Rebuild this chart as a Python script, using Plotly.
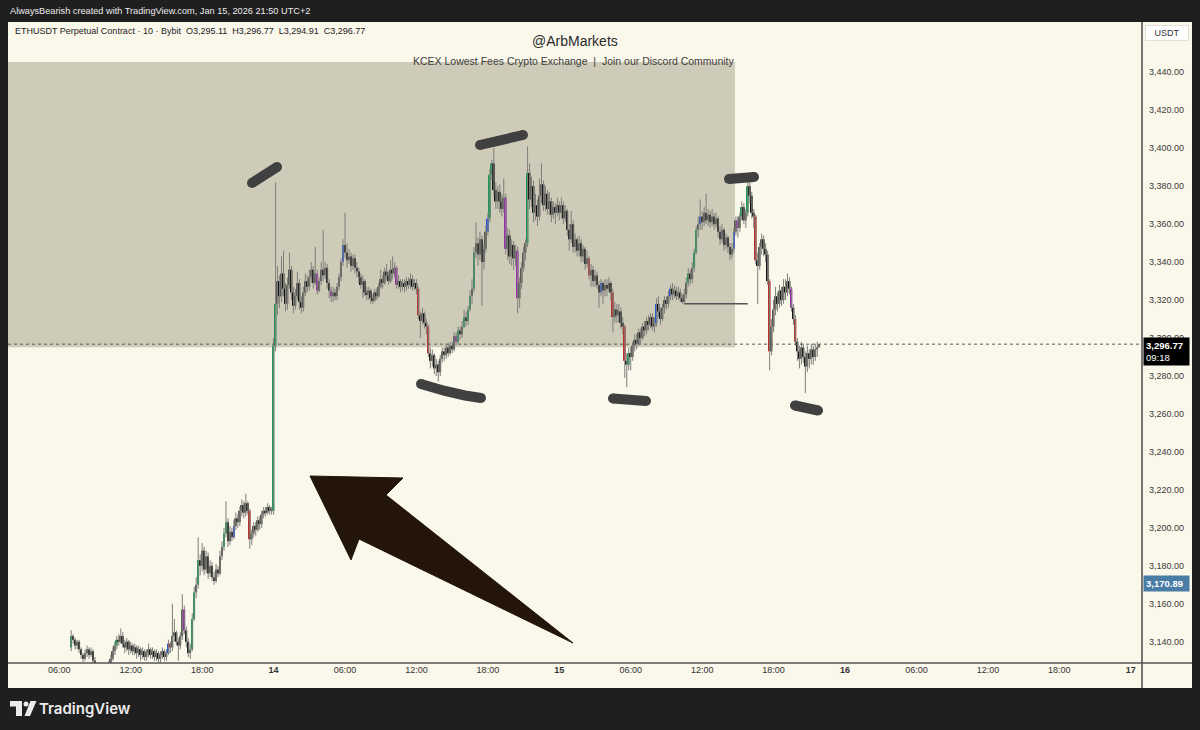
import pandas as pd
import plotly.graph_objects as go

# ---------------- data (10-minute candles, Bybit ETHUSDT perpetual) ----------------
symbol_title = "ETHUSDT Perpetual Contract · 10 · Bybit"
start_time = "2026-01-13 07:00"
first_open = 3137.0

close = [
    # Jan 13 07h .. 23h
    3143, 3141, 3138, 3140, 3136, 3133,
    3131, 3134, 3136, 3133, 3135, 3130,
    3128, 3125, 3123, 3126, 3124, 3122,
    3125, 3128, 3131, 3135, 3138, 3141,
    3140, 3143, 3139, 3137, 3140, 3136,
    3138, 3135, 3137, 3134, 3136, 3133,
    3135, 3132, 3134, 3136, 3133, 3135,
    3132, 3134, 3131, 3133, 3135, 3132,
    3134, 3139, 3137, 3143, 3145, 3140,
    3138, 3143, 3157, 3146, 3140, 3134,
    3136, 3152, 3166, 3170, 3183, 3180,
    3188, 3178, 3185, 3176, 3180, 3174,
    3172, 3178, 3176, 3185, 3190, 3197,
    3203, 3193, 3198, 3195, 3201, 3205,
    3203, 3209, 3212, 3208, 3213, 3209,
    3194, 3197, 3201, 3199, 3204, 3202,
    3207, 3209, 3208, 3211, 3209, 3209,
    # Jan 14 00h .. 23h
    3296, 3318, 3330, 3322, 3334, 3326,
    3318, 3328, 3336, 3324, 3317, 3322,
    3329, 3319, 3316, 3324, 3330, 3327,
    3332, 3336, 3329, 3334, 3325, 3330,
    3336, 3333, 3337, 3329, 3325, 3322,
    3324, 3322, 3327, 3332, 3340, 3349,
    3345, 3341, 3343, 3338, 3342, 3337,
    3335, 3332, 3328, 3330, 3324, 3323,
    3325, 3321, 3320, 3324, 3322, 3327,
    3331, 3329, 3335, 3333, 3330, 3336,
    3334, 3337, 3328, 3330, 3327, 3329,
    3327, 3330, 3328, 3331, 3327, 3329,
    3326, 3312, 3309, 3313, 3308, 3306,
    3292, 3288, 3291, 3284, 3286, 3282,
    3289, 3293, 3291, 3295, 3292, 3296,
    3294, 3301, 3298, 3304, 3302, 3306,
    3311, 3309, 3315, 3322, 3326, 3345,
    3350, 3344, 3352, 3340, 3347, 3356,
    3363, 3386, 3392, 3378, 3372, 3377,
    3372, 3368, 3374, 3347, 3354, 3343,
    3349, 3342, 3346, 3321, 3329, 3337,
    3345, 3350, 3387, 3373, 3380, 3366,
    3370, 3364, 3375, 3381, 3370, 3376,
    3368, 3372, 3365, 3369, 3366, 3370,
    # Jan 15 00h .. 21h
    3366, 3370, 3363, 3367, 3357, 3352,
    3360, 3348, 3352, 3346, 3350, 3343,
    3347, 3339, 3342, 3333, 3336, 3330,
    3333, 3328, 3324, 3329, 3325, 3328,
    3326, 3329, 3324, 3311, 3315, 3312,
    3314, 3308, 3306, 3288, 3286, 3292,
    3290, 3296, 3299, 3297, 3303, 3300,
    3306, 3304, 3309, 3307, 3311, 3306,
    3308, 3318, 3314, 3310, 3316, 3320,
    3318, 3322, 3326, 3323, 3325, 3322,
    3324, 3321, 3319, 3323, 3329, 3334,
    3331, 3337, 3345, 3357, 3360, 3364,
    3361, 3366, 3362, 3365, 3361, 3364,
    3360, 3363, 3356, 3352, 3357, 3349,
    3353, 3348, 3344, 3347, 3356, 3362,
    3358, 3364, 3369, 3362, 3366, 3380,
    3375, 3366, 3364, 3341, 3338, 3348,
    3352, 3347, 3344, 3330, 3293, 3306,
    3315, 3322, 3318, 3325, 3320, 3327,
    3324, 3330, 3326, 3316, 3310, 3298,
    3293, 3289, 3295, 3290, 3285, 3292,
    3289, 3294, 3290, 3294, 3295.11, 3296.77,
]

high = [
    3146, 3144, 3142, 3141, 3141, 3137,
    3134, 3136, 3138, 3137, 3137, 3136,
    3132, 3129, 3127, 3128, 3127, 3125,
    3127, 3130, 3133, 3137, 3140, 3143,
    3144, 3147, 3145, 3141, 3142, 3141,
    3140, 3139, 3139, 3138, 3138, 3137,
    3137, 3136, 3136, 3139, 3137, 3137,
    3136, 3136, 3135, 3135, 3137, 3136,
    3136, 3141, 3140, 3160, 3152, 3146,
    3142, 3145, 3165, 3159, 3148, 3142,
    3139, 3155, 3169, 3174, 3195, 3186,
    3192, 3190, 3188, 3187, 3183, 3182,
    3177, 3181, 3180, 3188, 3193, 3200,
    3214, 3205, 3201, 3200, 3204, 3208,
    3207, 3211, 3215, 3214, 3218, 3214,
    3210, 3199, 3203, 3203, 3206, 3206,
    3209, 3211, 3211, 3213, 3212, 3211,
    3300, 3382, 3338, 3333, 3343, 3346,
    3329, 3332, 3345, 3338, 3327, 3326,
    3335, 3331, 3322, 3327, 3334, 3333,
    3336, 3340, 3338, 3348, 3336, 3332,
    3340, 3357, 3340, 3339, 3331, 3327,
    3327, 3326, 3329, 3334, 3342, 3352,
    3366, 3350, 3347, 3345, 3344, 3344,
    3340, 3337, 3334, 3333, 3331, 3327,
    3327, 3326, 3323, 3326, 3326, 3329,
    3336, 3333, 3337, 3339, 3335, 3341,
    3343, 3340, 3338, 3333, 3331, 3331,
    3331, 3332, 3332, 3334, 3333, 3331,
    3331, 3327, 3314, 3316, 3314, 3310,
    3307, 3295, 3294, 3292, 3289, 3288,
    3291, 3295, 3295, 3297, 3297, 3298,
    3298, 3303, 3303, 3306, 3306, 3309,
    3315, 3314, 3317, 3325, 3331, 3348,
    3361, 3353, 3356, 3354, 3350, 3359,
    3366, 3389, 3394, 3400, 3382, 3380,
    3381, 3376, 3384, 3376, 3358, 3357,
    3352, 3351, 3349, 3348, 3332, 3340,
    3348, 3352, 3401, 3392, 3385, 3383,
    3376, 3373, 3384, 3392, 3383, 3380,
    3378, 3377, 3374, 3372, 3371, 3374,
    3372, 3374, 3372, 3370, 3368, 3360,
    3367, 3362, 3355, 3353, 3354, 3352,
    3349, 3348, 3346, 3343, 3339, 3338,
    3336, 3335, 3330, 3331, 3330, 3331,
    3331, 3332, 3330, 3326, 3319, 3318,
    3318, 3316, 3311, 3307, 3292, 3295,
    3295, 3298, 3302, 3302, 3305, 3305,
    3308, 3309, 3311, 3312, 3313, 3313,
    3311, 3321, 3322, 3316, 3318, 3322,
    3322, 3325, 3328, 3329, 3328, 3327,
    3327, 3326, 3323, 3326, 3332, 3337,
    3336, 3340, 3347, 3359, 3364, 3373,
    3367, 3369, 3376, 3368, 3367, 3368,
    3366, 3366, 3364, 3359, 3360, 3358,
    3355, 3354, 3350, 3350, 3358, 3364,
    3364, 3366, 3372, 3371, 3368, 3382,
    3382, 3377, 3368, 3365, 3345, 3350,
    3355, 3354, 3350, 3346, 3331, 3310,
    3320, 3327, 3324, 3328, 3327, 3331,
    3331, 3334, 3332, 3327, 3318, 3312,
    3300, 3296, 3298, 3297, 3293, 3296,
    3294, 3297, 3296, 3297, 3298, 3296.77,
]

low = [
    3135, 3139, 3136, 3136, 3134, 3131,
    3129, 3130, 3132, 3131, 3132, 3128,
    3126, 3123, 3121, 3122, 3121, 3119,
    3121, 3124, 3127, 3130, 3133, 3136,
    3138, 3139, 3137, 3134, 3135, 3133,
    3134, 3133, 3133, 3131, 3132, 3130,
    3131, 3130, 3130, 3132, 3131, 3131,
    3130, 3130, 3129, 3129, 3131, 3130,
    3130, 3133, 3134, 3135, 3140, 3138,
    3130, 3136, 3141, 3144, 3137, 3132,
    3131, 3135, 3151, 3163, 3168, 3175,
    3177, 3175, 3176, 3173, 3174, 3172,
    3170, 3171, 3174, 3175, 3183, 3188,
    3195, 3190, 3191, 3193, 3194, 3199,
    3200, 3201, 3206, 3205, 3206, 3207,
    3189, 3191, 3195, 3196, 3198, 3199,
    3200, 3205, 3206, 3207, 3207, 3207,
    3207, 3293, 3312, 3316, 3319, 3322,
    3314, 3315, 3326, 3320, 3313, 3315,
    3320, 3315, 3313, 3314, 3322, 3324,
    3325, 3329, 3326, 3328, 3323, 3324,
    3328, 3330, 3331, 3326, 3321, 3319,
    3319, 3320, 3320, 3325, 3330, 3338,
    3342, 3337, 3339, 3335, 3336, 3334,
    3332, 3329, 3326, 3321, 3322, 3320,
    3320, 3318, 3318, 3319, 3320, 3321,
    3326, 3326, 3328, 3331, 3328, 3329,
    3331, 3332, 3326, 3326, 3324, 3325,
    3324, 3325, 3326, 3326, 3325, 3325,
    3323, 3310, 3300, 3307, 3305, 3302,
    3290, 3284, 3285, 3281, 3280, 3277,
    3280, 3287, 3288, 3289, 3290, 3291,
    3292, 3293, 3296, 3297, 3299, 3300,
    3305, 3306, 3307, 3314, 3318, 3324,
    3342, 3338, 3341, 3317, 3336, 3345,
    3354, 3361, 3383, 3375, 3368, 3368,
    3366, 3364, 3366, 3344, 3341, 3339,
    3338, 3336, 3338, 3313, 3316, 3326,
    3335, 3341, 3348, 3368, 3369, 3361,
    3362, 3359, 3362, 3371, 3367, 3367,
    3365, 3365, 3361, 3363, 3360, 3364,
    3362, 3363, 3360, 3361, 3354, 3346,
    3350, 3345, 3345, 3343, 3343, 3340,
    3340, 3336, 3337, 3331, 3327, 3327,
    3327, 3326, 3316, 3322, 3318, 3322,
    3322, 3324, 3320, 3303, 3308, 3308,
    3308, 3305, 3302, 3279, 3274, 3283,
    3283, 3288, 3293, 3294, 3296, 3297,
    3299, 3301, 3302, 3304, 3305, 3304,
    3303, 3306, 3311, 3307, 3309, 3313,
    3315, 3316, 3320, 3320, 3321, 3320,
    3320, 3319, 3318, 3318, 3321, 3327,
    3328, 3329, 3335, 3344, 3353, 3357,
    3357, 3359, 3360, 3359, 3358, 3359,
    3357, 3358, 3353, 3349, 3350, 3346,
    3347, 3345, 3341, 3342, 3345, 3354,
    3353, 3356, 3362, 3360, 3358, 3364,
    3371, 3363, 3358, 3339, 3318, 3336,
    3344, 3343, 3340, 3328, 3283, 3291,
    3303, 3312, 3314, 3316, 3317, 3318,
    3320, 3322, 3323, 3314, 3307, 3296,
    3288, 3284, 3286, 3287, 3271, 3282,
    3284, 3286, 3286, 3288, 3290, 3294.91,
]

# volume-vector candle classes (candle index from start_time)
green_idx = [0, 23, 61, 62, 64, 77, 78, 102, 103, 195, 198, 200, 201, 203,
             211, 212, 230, 281, 311, 314, 315, 338, 341]
red_idx = [50, 90, 175, 180, 261, 273, 279, 345, 352, 365]
blue_idx = [49, 82, 137, 210, 267, 295, 302, 317, 334]
purple_idx = [57, 124, 131, 164, 194, 219, 225, 336, 363]

marker_price = 3170.89
countdown = "09:18"

zone_end = "2026-01-15 14:45"
zone_low = 3295.2
zone_high = 3445.4
level_price = 3318.0
level_start = "2026-01-15 10:30"
level_end = "2026-01-15 15:50"

y_ticks = [3140, 3160, 3180, 3200, 3220, 3240, 3260, 3280, 3300, 3320,
           3340, 3360, 3380, 3400, 3420, 3440]
y_tick_labels = ["3,140.00", "3,160.00", "3,180.00", "3,200.00", "3,220.00",
                 "3,240.00", "3,260.00", "3,280.00", "3,300.00", "3,320.00",
                 "3,340.00", "3,360.00", "3,380.00", "3,400.00", "3,420.00",
                 "3,440.00"]
x_tick_times = ["2026-01-13 06:00", "2026-01-13 12:00", "2026-01-13 18:00",
                "2026-01-14 00:00", "2026-01-14 06:00", "2026-01-14 12:00",
                "2026-01-14 18:00", "2026-01-15 00:00", "2026-01-15 06:00",
                "2026-01-15 12:00", "2026-01-15 18:00", "2026-01-16 00:00",
                "2026-01-16 06:00", "2026-01-16 12:00", "2026-01-16 18:00",
                "2026-01-17 00:00"]
x_tick_labels = ["06:00", "12:00", "18:00", "<b>14</b>", "06:00", "12:00",
                 "18:00", "<b>15</b>", "06:00", "12:00", "18:00", "<b>16</b>",
                 "06:00", "12:00", "18:00", "<b>17</b>"]

x_view = ["2026-01-13 01:41:27", "2026-01-17 00:56:40"]
y_view = [3128.8, 3466.5]

# ---------------- styling ----------------
FONT = "Liberation Sans"
DARK = "#1f1f1f"
CREAM = "#faf7eb"
ZONE = "#cfcbb9"
WICK = "#7e7e7a"
UP = "#5a5a55"
DOWN = "#101010"
VEC_GREEN = "#1e9a58"
VEC_RED = "#b8322c"
VEC_BLUE = "#2a58d0"
VEC_PURPLE = "#9a2cb0"
STROKE = "#404040"
ARROW = "#231608"

n = len(close)
assert len(high) == n and len(low) == n, (n, len(high), len(low))

times = pd.date_range(start_time, periods=n, freq="10min")
opens = [first_open] + close[:-1]
highs = [max(h, o, c) for h, o, c in zip(high, opens, close)]
lows = [min(l, o, c) for l, o, c in zip(low, opens, close)]

colors = []
for i, (o, c) in enumerate(zip(opens, close)):
    if i in green_idx:
        colors.append(VEC_GREEN)
    elif i in red_idx:
        colors.append(VEC_RED)
    elif i in blue_idx:
        colors.append(VEC_BLUE)
    elif i in purple_idx:
        colors.append(VEC_PURPLE)
    else:
        colors.append(UP if c >= o else DOWN)

wx, wy = [], []
for t, h, l in zip(times, highs, lows):
    wx += [t, t, None]
    wy += [l, h, None]

body_base = [min(o, c) for o, c in zip(opens, close)]
body_len = [max(abs(c - o), 0.5) for o, c in zip(opens, close)]

fig = go.Figure()
fig.add_trace(go.Scatter(x=wx, y=wy, mode="lines",
                         line=dict(color=WICK, width=1), hoverinfo="skip"))
fig.add_trace(go.Bar(x=times, y=body_len, base=body_base,
                     width=10 * 60 * 1000 * 0.92,
                     marker=dict(color=colors, line=dict(width=0)),
                     hoverinfo="skip"))

# ---------------- pixel helpers for drawings ----------------
PL, PR, PT, PB = 8, 1142, 22, 663


def px(x):
    return (x - PL) / (PR - PL)


def py(y):
    return (PB - y) / (PB - PT)


def path(points, closed=False):
    s = "M " + " L ".join(f"{px(x):.5f},{py(y):.5f}" for x, y in points)
    return s + (" Z" if closed else "")


shapes = []
shapes.append(dict(type="rect", xref="paper", yref="paper", x0=px(8), x1=px(1192),
                   y0=py(688), y1=py(22), fillcolor=CREAM, line=dict(width=0),
                   layer="below"))
shapes.append(dict(type="rect", xref="x", yref="y", x0="2026-01-12 00:00",
                   x1=zone_end, y0=zone_low, y1=zone_high, fillcolor=ZONE,
                   line=dict(width=0), layer="below"))
shapes.append(dict(type="line", xref="paper", yref="y", x0=0, x1=1,
                   y0=close[-1], y1=close[-1],
                   line=dict(color="#5a5a5a", width=1, dash="dot")))
shapes.append(dict(type="line", xref="x", yref="y", x0=level_start, x1=level_end,
                   y0=level_price, y1=level_price,
                   line=dict(color="#555555", width=1.5)))
shapes.append(dict(type="path", xref="paper", yref="paper",
                   path=path([(310, 476), (403, 478), (386, 495), (573, 643),
                              (359, 539), (351, 560)], closed=True),
                   fillcolor=ARROW, line=dict(color=ARROW, width=1)))
strokes = [
    [(252, 183), (277, 167)],
    [(480, 145), (523, 135)],
    [(421, 384), (445, 391), (465, 395.5), (481, 398)],
    [(613, 398.5), (646, 401)],
    [(729, 179), (754, 177)],
    [(795, 405.5), (818, 410.5)],
]
for pts in strokes:
    shapes.append(dict(type="path", xref="paper", yref="paper", path=path(pts),
                       line=dict(color=STROKE, width=10)))
    for (cx, cy) in (pts[0], pts[-1]):
        shapes.append(dict(type="circle", xref="paper", yref="paper",
                           x0=px(cx - 5), x1=px(cx + 5), y0=py(cy + 5), y1=py(cy - 5),
                           fillcolor=STROKE, line=dict(width=0)))
shapes.append(dict(type="line", xref="paper", yref="paper", x0=1, x1=1,
                   y0=py(688), y1=py(22), line=dict(color="#555555", width=1.6)))
shapes.append(dict(type="line", xref="paper", yref="paper", x0=0, x1=px(1192),
                   y0=0, y1=0, line=dict(color="#555555", width=1.6)))
LOGO = "#ececec"
shapes.append(dict(type="path", xref="paper", yref="paper",
                   path=path([(10, 701), (22, 701), (22, 716), (16, 716),
                              (16, 706.5), (10, 706.5)], closed=True),
                   fillcolor=LOGO, line=dict(width=0)))
shapes.append(dict(type="circle", xref="paper", yref="paper",
                   x0=px(23.5), x1=px(28.5), y0=py(706.5), y1=py(701.5),
                   fillcolor=LOGO, line=dict(width=0)))
shapes.append(dict(type="path", xref="paper", yref="paper",
                   path=path([(30.5, 701), (36.5, 701), (30, 716), (24.5, 716)],
                             closed=True),
                   fillcolor=LOGO, line=dict(width=0)))


def txt(x, y, s, size, color, anchor="left", family=FONT, weight="normal"):
    return dict(xref="paper", yref="paper", x=px(x), y=py(y), text=s,
                showarrow=False, xanchor=anchor, yanchor="middle",
                font=dict(family=family, size=size, color=color, weight=weight))


ohlc_text = (f"{symbol_title}  O{opens[-1]:,.2f}  H{highs[-1]:,.2f}  "
             f"L{lows[-1]:,.2f}  C{close[-1]:,.2f}")

annots = [
    txt(8, 11, "AlwaysBearish created with TradingView.com, Jan 15, 2026 21:50 UTC+2",
        9.2, "#ececec"),
    txt(13, 31, ohlc_text, 9, "#222222"),
    txt(575, 41, "@ArbMarkets", 14, "#2a2a2a", "center"),
    txt(574, 61, "KCEX Lowest Fees Crypto Exchange  |  Join our Discord Community",
        10.5, "#3d3d3d", "center"),
    txt(37, 708, "TradingView", 15, "#ececec", family="Inter", weight=600),
    dict(xref="paper", yref="paper", x=px(1167), y=py(33), text="USDT",
         showarrow=False, xanchor="center", yanchor="middle",
         bgcolor="#ffffff", bordercolor="#e2e0d6", borderwidth=1, borderpad=2,
         width=38, font=dict(family=FONT, size=9, color="#333333")),
    dict(xref="paper", yref="y", x=1, xanchor="left", xshift=1,
         y=close[-1], yanchor="top", yshift=7, showarrow=False,
         text=f"<b>{close[-1]:,.2f}</b><br>{countdown}", align="left",
         bgcolor="#000000", borderpad=2, width=41,
         font=dict(family=FONT, size=9.5, color="#ffffff")),
    dict(xref="paper", yref="y", x=1, xanchor="left", xshift=1,
         y=marker_price, yanchor="middle", showarrow=False,
         text=f"<b>{marker_price:,.2f}</b>", align="left",
         bgcolor="#4a7da6", borderpad=2, width=41,
         font=dict(family=FONT, size=9.5, color="#ffffff")),
]

fig.update_layout(
    width=1200, height=730,
    margin=dict(l=PL, r=1200 - PR, t=PT, b=730 - PB),
    paper_bgcolor=DARK, plot_bgcolor=CREAM,
    showlegend=False,
    xaxis=dict(type="date", range=x_view, tickvals=x_tick_times,
               ticktext=x_tick_labels, showgrid=False, zeroline=False,
               showline=False, ticks="",
               tickfont=dict(family=FONT, size=9, color="#333333")),
    yaxis=dict(side="right", range=y_view, tickvals=y_ticks,
               ticktext=y_tick_labels, showgrid=False, zeroline=False,
               showline=False, ticks="", ticklabelstandoff=6,
               tickfont=dict(family=FONT, size=9, color="#3a3a3a")),
    shapes=shapes,
    annotations=annots,
)

fig.write_html("out.html", config={"displayModeBar": False})
